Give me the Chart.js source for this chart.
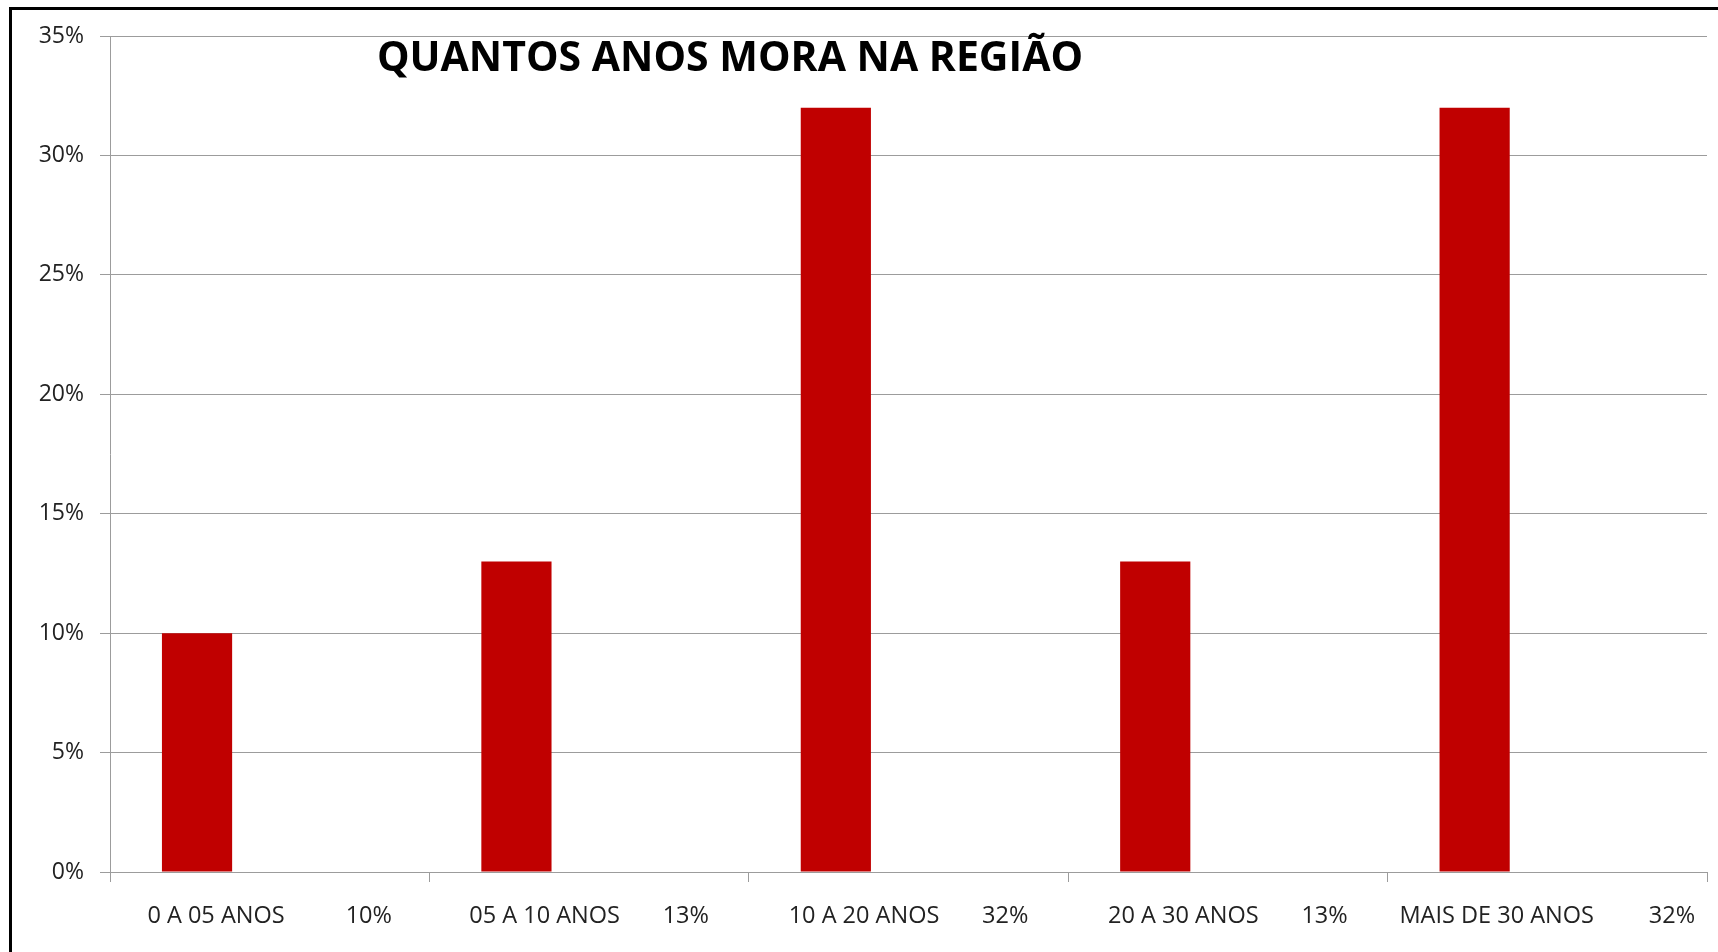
<!DOCTYPE html>
<html>
<head>
<meta charset="utf-8">
<title>Quantos anos mora na região</title>
<script src="https://cdn.jsdelivr.net/npm/chart.js@4.4.1/dist/chart.umd.min.js"></script>
<style>
  html, body { margin: 0; padding: 0; background: #fff; }
  #wrap { position: relative; width: 1718px; height: 952px; overflow: hidden; }
  #frame {
    position: absolute; left: 9px; top: 7px; right: -10px; bottom: -10px;
    border-left: 3px solid #000; border-top: 3px solid #000;
    pointer-events: none;
  }
</style>
</head>
<body>
<div id="wrap">
  <canvas id="chart" width="1718" height="952"></canvas>
  <div id="frame"></div>
</div>
<script>
// Values
const TITLE = "QUANTOS ANOS MORA NA REGIÃO";
const categories = ["0 A 05 ANOS", "05 A 10 ANOS", "10 A 20 ANOS", "20 A 30 ANOS", "MAIS DE 30 ANOS"];
const pctLabels = ["10%", "13%", "32%", "13%", "32%"];
const values = [10, 13, 32, 13, 32];
const yTickLabels = ["0%", "5%", "10%", "15%", "20%", "25%", "30%", "35%"];
// gap (in spaces) between the category name and its percentage, as in the sheet
const labelGaps = [10, 7, 7, 7, 9];

const GRID = "#9c9c9c";
const TEXT = "#222";

// title sits inside the plot area, like the original
const titlePlugin = {
  id: "insideTitle",
  afterDraw(chart) {
    const ctx = chart.ctx;
    ctx.save();
    ctx.font = "bold 41px 'Open Sans'";
    ctx.fillStyle = "#000";
    ctx.textAlign = "center";
    ctx.textBaseline = "alphabetic";
    ctx.fillText(TITLE, 730, 71);
    ctx.restore();
  }
};

const xLabels = categories.map((c, i) => c + " ".repeat(labelGaps[i]) + pctLabels[i]);

new Chart(document.getElementById("chart"), {
  type: "bar",
  data: {
    labels: xLabels,
    datasets: [
      { label: "Série1", data: values, backgroundColor: "#c00000", borderWidth: 0 },
      // empty second series (the percentage column), keeps the bars left of centre
      { label: "Série2", data: values.map(() => null), backgroundColor: "#c00000" }
    ]
  },
  options: {
    responsive: false,
    animation: false,
    categoryPercentage: 0.91,
    barPercentage: 0.483,
    layout: { padding: { top: 36, right: 11, left: 0, bottom: 0 } },
    plugins: {
      legend: { display: false },
      tooltip: { enabled: false }
    },
    scales: {
      x: {
        offset: true,
        grid: { offset: true, drawOnChartArea: false, color: GRID, tickLength: 10, lineWidth: 1 },
        border: { color: GRID, width: 1 },
        ticks: {
          color: TEXT,
          font: { family: "'Open Sans'", size: 23.5 },
          padding: 20,
          maxRotation: 0,
          autoSkip: false
        },
        afterFit(scale) { scale.height = 80; }
      },
      y: {
        min: 0,
        max: 35,
        grid: { color: GRID, tickLength: 10, lineWidth: 1 },
        border: { color: GRID, width: 1 },
        ticks: {
          stepSize: 5,
          color: TEXT,
          font: { family: "'Open Sans'", size: 23 },
          padding: 16,
          callback: (v, i) => yTickLabels[i]
        },
        afterFit(scale) { scale.width = 110; }
      }
    }
  },
  plugins: [titlePlugin]
});
</script>
</body>
</html>
